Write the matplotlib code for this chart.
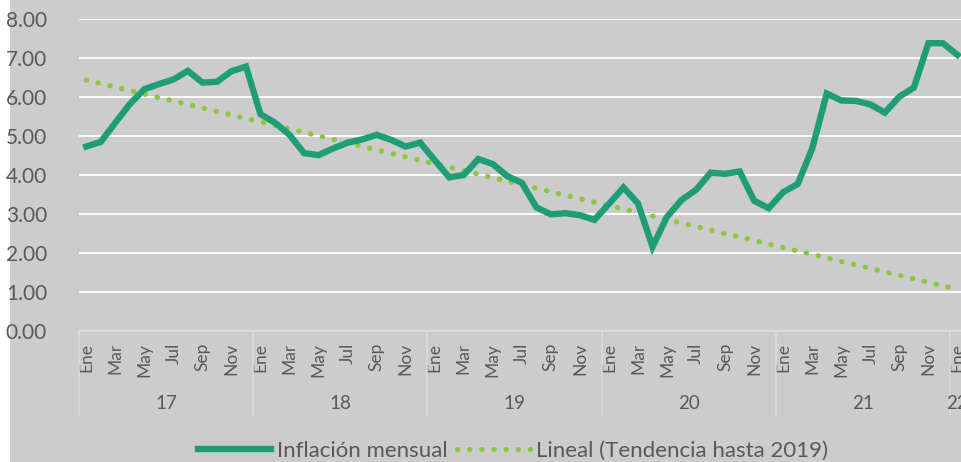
import numpy as np
import matplotlib
matplotlib.use("Agg")
import matplotlib.pyplot as plt
from matplotlib.patches import Rectangle
from matplotlib.lines import Line2D
import matplotlib.transforms as mtransforms

plt.rcParams['font.family'] = ['Lato', 'DejaVu Sans']

# --- data ---
years = ["17", "18", "19", "20", "21", "22"]
month_names = ["Ene", "Feb", "Mar", "Abr", "May", "Jun",
               "Jul", "Ago", "Sep", "Oct", "Nov", "Dic"]

inflacion = [
    # 2017
    4.73, 4.85, 5.34, 5.82, 6.20, 6.33, 6.45, 6.67, 6.37, 6.39, 6.66, 6.78,
    # 2018
    5.56, 5.34, 5.03, 4.56, 4.51, 4.68, 4.83, 4.91, 5.03, 4.90, 4.73, 4.83,
    # 2019
    4.38, 3.94, 4.00, 4.41, 4.28, 3.97, 3.80, 3.17, 2.99, 3.02, 2.97, 2.85,
    # 2020
    3.26, 3.68, 3.27, 2.16, 2.93, 3.36, 3.62, 4.06, 4.03, 4.09, 3.34, 3.15,
    # 2021
    3.56, 3.77, 4.68, 6.09, 5.91, 5.90, 5.81, 5.60, 6.01, 6.24, 7.38, 7.38,
    # 2022
    7.08,
]
n_trend = 36  # trend fitted up to Dec 2019

GREEN = "#1f9d77"
LIGHT = "#8cc63f"
BG = "#cccccc"
TXT = "#595959"
SEP = "#dadada"

x = np.arange(len(inflacion))
y = np.array(inflacion)
coef = np.polyfit(x[:n_trend], y[:n_trend], 1)
trend = np.polyval(coef, x)

fig = plt.figure(figsize=(9.61, 4.62), dpi=100)
fig.patch.set_facecolor("white")
fig.patches.append(Rectangle((10 / 961, 0), 1, 1, transform=fig.transFigure,
                             facecolor=BG, edgecolor="none", zorder=-10))

W, H = 961, 462
left, right, top, bottom = 79, 964.7, 19, 331
ax = fig.add_axes([left / W, 1 - bottom / H, (right - left) / W, (bottom - top) / H])
ax.set_facecolor(BG)

ax.plot(x, trend, color=LIGHT, lw=3.8, dashes=(0.05, 2.25), dash_capstyle="round",
        label="Lineal (Tendencia hasta 2019)", zorder=3)
ax.plot(x, y, color=GREEN, lw=4.6, solid_joinstyle="miter",
        label="Inflación mensual", zorder=4)

ax.set_xlim(-0.5, len(x) - 0.5)
ax.set_ylim(0, 8)
ax.set_yticks(np.arange(0, 9, 1))
ax.set_yticklabels([f"{v:.2f}" for v in range(9)])
ax.yaxis.grid(True, color="white", lw=1.3)
ax.set_axisbelow(True)
for s in ["top", "right", "left"]:
    ax.spines[s].set_visible(False)
ax.spines["bottom"].set_color(SEP)
ax.spines["bottom"].set_linewidth(1.2)
ax.tick_params(axis="y", length=0, pad=23, labelsize=15, labelcolor=TXT)

labels = [month_names[i % 12] if i % 2 == 0 else "" for i in x]
ax.set_xticks(x)
ax.set_xticklabels(labels, rotation=90, va="top", ha="center")
ax.tick_params(axis="x", length=0, pad=8.5, labelsize=12.5, labelcolor=TXT)

trans = mtransforms.blended_transform_factory(ax.transData, ax.transAxes)
for i, yr in enumerate(years):
    start = i * 12
    end = min(start + 12, len(x))
    ax.text((start + end - 1) / 2, -0.232, yr, transform=trans, ha="center",
            va="center", fontsize=13.5, color=TXT)
    ax.add_line(Line2D([start - 0.5, start - 0.5], [0, -0.27], transform=trans,
                       color=SEP, lw=1.2, clip_on=False))

handles, lbls = ax.get_legend_handles_labels()
fig.legend(handles[::-1], lbls[::-1], loc="center", bbox_to_anchor=(0.534, 0.024),
           ncol=2, frameon=False, fontsize=16, labelcolor=TXT,
           handlelength=3.3, handletextpad=0.25, columnspacing=0.45)

fig.savefig("out.png", dpi=100, facecolor=fig.get_facecolor())
